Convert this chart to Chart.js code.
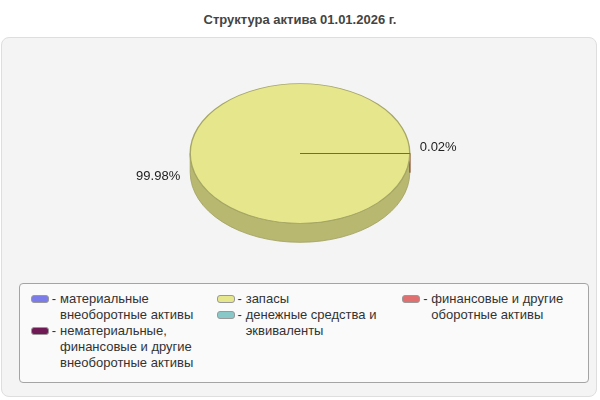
<!DOCTYPE html>
<html>
<head>
<meta charset="utf-8">
<script src="https://cdn.jsdelivr.net/npm/chart.js@4.4.1/dist/chart.umd.min.js"></script>
<style>
  body { margin: 0; width: 600px; height: 400px; background: #fff; font-family: "Liberation Sans", Arial, sans-serif; position: relative; overflow: hidden; }
  #title { position: absolute; top: 12px; left: 0; width: 600px; text-align: center; font-weight: bold; font-size: 13px; color: #444; }
  #panel { position: absolute; left: 1px; top: 37px; width: 594px; height: 358px; border: 1px solid #dedede; border-radius: 8px; background: #f4f4f4; }
  #chartBox { position: absolute; left: 0; top: 43px; width: 600px; height: 221px; }
  #legend { position: absolute; left: 19px; top: 283px; width: 557px; height: 98px; border: 1px solid #a4a4a4; border-radius: 4px; background: #fafafa; display: flex; padding-left: 11px; box-sizing: content-box; }
  #legend .col { width: 186px; padding-top: 7px; }
  #legend .item { display: flex; font-size: 13px; line-height: 16px; color: #333; }
  #legend .sw { width: 16px; height: 6px; border: 1px solid #999; border-radius: 3px; margin-top: 4px; flex: none; }
  #legend .dash { width: 8px; text-align: center; flex: none; margin-left: 1px; }
  #legend .txt { width: 150px; margin-left: 2px; }
</style>
</head>
<body>
<div id="title">Структура актива 01.01.2026 г.</div>
<div id="panel"></div>
<div id="chartBox"><canvas id="pie"></canvas></div>
<div id="legend"></div>
<script>
// категории и доли (%)
const categories = [
    "материальные внеоборотные активы",
    "нематериальные, финансовые и другие внеоборотные активы",
    "запасы",
    "денежные средства и эквиваленты",
    "финансовые и другие оборотные активы"
];
const values = [0, 0, 99.98, 0, 0.02];
const colors = ["#7b7bea", "#701a55", "#e6e68c", "#88c8c8", "#e07070"];
const legendColumns = [[0, 1], [2, 3], [4]];

const SQUASH = 0.636;   // высота эллипса / ширина
const DEPTH = 19;       // толщина "3D" пирога, px

function shade(hex, f) {
    const n = parseInt(hex.slice(1), 16);
    const r = Math.round(((n >> 16) & 255) * f);
    const g = Math.round(((n >> 8) & 255) * f);
    const b = Math.round((n & 255) * f);
    return `rgb(${r},${g},${b})`;
}

// псевдо-3D: сжимаем круг в эллипс и рисуем боковую стенку
const pie3d = {
    id: 'pie3d',
    beforeDatasetsDraw(chart) {
        const ctx = chart.ctx;
        const meta = chart.getDatasetMeta(0);
        if (!meta.data.length) return;
        const c = meta.data[0].getProps(['x', 'y'], true);
        ctx.save();
        ctx.translate(c.x, c.y);
        ctx.scale(1, SQUASH);
        ctx.translate(-c.x, -c.y);
        const d = DEPTH / SQUASH;
        meta.data.forEach((arc, i) => {
            const p = arc.getProps(['x', 'y', 'startAngle', 'endAngle', 'outerRadius'], true);
            if (p.endAngle - p.startAngle <= 0) return;
            for (let n = -1; n <= 2; n++) {
                const lo = Math.max(p.startAngle, 2 * Math.PI * n);
                const hi = Math.min(p.endAngle, 2 * Math.PI * n + Math.PI);
                if (hi <= lo) continue;
                ctx.beginPath();
                ctx.arc(p.x, p.y, p.outerRadius, lo, hi);
                ctx.arc(p.x, p.y + d, p.outerRadius, hi, lo, true);
                ctx.closePath();
                ctx.fillStyle = shade(colors[i], 0.8);
                ctx.fill();
                ctx.lineWidth = 1;
                ctx.strokeStyle = shade(colors[i], 0.7);
                ctx.stroke();
            }
        });
    },
    afterDatasetsDraw(chart) {
        const ctx = chart.ctx;
        ctx.restore();
        const meta = chart.getDatasetMeta(0);
        const total = values.reduce((a, b) => a + b, 0);
        ctx.save();
        ctx.font = '13px "Liberation Sans", Arial, sans-serif';
        ctx.fillStyle = '#222';
        ctx.textBaseline = 'middle';
        meta.data.forEach((arc, i) => {
            if (!values[i]) return;
            const p = arc.getProps(['x', 'y', 'startAngle', 'endAngle', 'outerRadius'], true);
            const mid = (p.startAngle + p.endAngle) / 2;
            const left = Math.cos(mid) < 0;
            const tx = p.x + Math.cos(mid) * (p.outerRadius + 10);
            const ty = p.y + Math.sin(mid) * p.outerRadius * SQUASH + (left ? DEPTH + 4 : -6);
            ctx.textAlign = left ? 'right' : 'left';
            ctx.fillText((values[i] / total * 100).toFixed(2) + '%', tx, ty);
        });
        ctx.restore();
    }
};

const assetChart = new Chart(document.getElementById("pie"), {
    type: 'pie',
    data: {
        labels: categories,
        datasets: [{
            data: values,
            backgroundColor: colors,
            borderColor: colors.map(c => shade(c, 0.72)),
            borderWidth: 1.4
        }]
    },
    options: {
        responsive: true,
        maintainAspectRatio: false,
        animation: false,
        rotation: 90.072,
        plugins: {
            legend: { display: false },
            tooltip: { enabled: false }
        }
    },
    plugins: [pie3d]
});

// легенда в HTML (текст с переносами)
const legendItems = assetChart.options.plugins.legend.labels.generateLabels(assetChart);
const legendEl = document.getElementById("legend");
legendColumns.forEach(col => {
    const colEl = document.createElement("div");
    colEl.className = "col";
    col.forEach(idx => {
        const it = legendItems[idx];
        const row = document.createElement("div");
        row.className = "item";
        row.innerHTML = `<span class="sw" style="background:${colors[idx]}"></span><span class="dash">-</span><span class="txt">${it.text}</span>`;
        colEl.appendChild(row);
    });
    legendEl.appendChild(colEl);
});
</script>
</body>
</html>
